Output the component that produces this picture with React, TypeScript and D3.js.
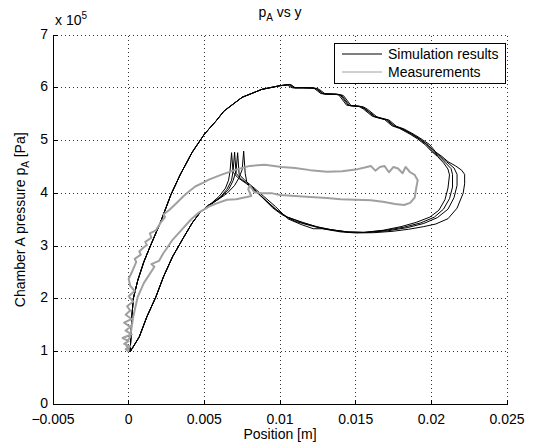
import React from "react";
import * as d3 from "d3";

// Position [m] / pressure [x 1e5 Pa] pairs.
type Pt = [number, number];

const xTicks = [-0.005, 0, 0.005, 0.01, 0.015, 0.02, 0.025];
const xTickLabels = ["\u22120.005", "0", "0.005", "0.01", "0.015", "0.02", "0.025"];
const yTicks = [0, 1, 2, 3, 4, 5, 6, 7];
const yTickLabels = ["0", "1", "2", "3", "4", "5", "6", "7"];
const seriesNames = ["Simulation results", "Measurements"];

// Simulation: pressure build-up branch shared by every cycle
const simRise: Pt[] = [
  [0.0001, 1.0], [0.00015, 1.3], [0.0002, 1.6], [0.0003, 2.0], [0.0006, 2.35],
  [0.001, 2.7], [0.0014, 2.98], [0.0021, 3.45], [0.0028, 3.98], [0.0034, 4.35],
  [0.0042, 4.78], [0.005, 5.12], [0.0058, 5.38], [0.0063, 5.56], [0.0075, 5.82],
  [0.0088, 5.97], [0.01, 6.04],
];

// Simulation: four consecutive cycles after the pressure peak
const simCycle1: Pt[] = [
  [0.0104, 6.05], [0.0105, 6.05], [0.0108, 6.0], [0.0113, 6.0], [0.0121, 6.0],
  [0.0123, 5.98], [0.0127, 5.89], [0.0137, 5.88], [0.0139, 5.86], [0.0144, 5.67],
  [0.0152, 5.65], [0.0155, 5.6], [0.0161, 5.46], [0.0166, 5.42], [0.0169, 5.4],
  [0.0174, 5.28], [0.0179, 5.23], [0.0186, 5.12], [0.0191, 5.03], [0.0196, 4.92],
  [0.02, 4.8], [0.0204, 4.7], [0.0208, 4.58], [0.0211, 4.46], [0.0212, 4.35],
  [0.0211, 4.1], [0.0209, 3.88], [0.0205, 3.68], [0.0199, 3.55], [0.019, 3.45],
  [0.018, 3.37], [0.0168, 3.3], [0.0155, 3.26], [0.0145, 3.27], [0.0134, 3.31],
  [0.0124, 3.37], [0.0114, 3.45], [0.0104, 3.56], [0.0097, 3.7], [0.009, 3.88],
  [0.0084, 4.04], [0.0078, 4.18], [0.0072, 4.3], [0.0069, 4.4], [0.0068, 4.77],
  [0.0067, 4.42], [0.0066, 4.25], [0.0064, 4.1], [0.006, 3.95], [0.0055, 3.82],
];
const simCycle2: Pt[] = [
  [0.0104, 6.05], [0.0106, 6.06], [0.0109, 6.0], [0.0114, 6.0], [0.0122, 6.0],
  [0.0124, 5.98], [0.0128, 5.89], [0.0138, 5.88], [0.014, 5.86], [0.0145, 5.67],
  [0.0153, 5.65], [0.0156, 5.6], [0.0162, 5.46], [0.0167, 5.42], [0.017, 5.4],
  [0.0175, 5.28], [0.018, 5.23], [0.0187, 5.12], [0.0192, 5.03], [0.0197, 4.92],
  [0.0201, 4.79], [0.0205, 4.7], [0.0209, 4.59], [0.0213, 4.47], [0.0214, 4.36],
  [0.0214, 4.12], [0.0212, 3.9], [0.0208, 3.7], [0.0202, 3.55], [0.0193, 3.44],
  [0.0182, 3.36], [0.017, 3.3], [0.0156, 3.26], [0.0144, 3.27], [0.0134, 3.31],
  [0.0125, 3.36], [0.0115, 3.45], [0.0105, 3.55], [0.0098, 3.68], [0.0091, 3.86],
  [0.0085, 4.02], [0.008, 4.15], [0.0074, 4.28], [0.0071, 4.38], [0.007, 4.78],
  [0.0069, 4.42], [0.0068, 4.25], [0.0065, 4.08], [0.0061, 3.94], [0.0055, 3.81],
];
const simCycle3: Pt[] = [
  [0.0105, 6.06], [0.0107, 6.06], [0.011, 6.0], [0.0115, 6.0], [0.0123, 5.99],
  [0.0125, 5.97], [0.0129, 5.88], [0.0139, 5.87], [0.0141, 5.85], [0.0146, 5.66],
  [0.0154, 5.64], [0.0157, 5.59], [0.0163, 5.45], [0.0168, 5.41], [0.0171, 5.39],
  [0.0176, 5.27], [0.0181, 5.22], [0.0188, 5.11], [0.0193, 5.02], [0.0198, 4.91],
  [0.0202, 4.79], [0.0206, 4.7], [0.021, 4.6], [0.0215, 4.48], [0.0217, 4.36],
  [0.0217, 4.15], [0.0215, 3.92], [0.0211, 3.7], [0.0204, 3.54], [0.0195, 3.43],
  [0.0184, 3.35], [0.0171, 3.29], [0.0158, 3.26], [0.0146, 3.26], [0.0136, 3.3],
  [0.0128, 3.33], [0.0122, 3.33], [0.0114, 3.41], [0.0105, 3.52], [0.0097, 3.75],
  [0.0089, 3.95], [0.0083, 4.1], [0.0077, 4.24], [0.0073, 4.36], [0.0072, 4.77],
  [0.0071, 4.43], [0.0069, 4.24], [0.0066, 4.07], [0.0061, 3.93], [0.0055, 3.8],
];
const simCycle4: Pt[] = [
  [0.0105, 6.06], [0.0107, 6.06], [0.011, 6.0], [0.0115, 6.0], [0.0124, 5.99],
  [0.0126, 5.97], [0.013, 5.88], [0.014, 5.87], [0.0142, 5.85], [0.0147, 5.66],
  [0.0155, 5.64], [0.0158, 5.59], [0.0164, 5.45], [0.0169, 5.41], [0.0172, 5.39],
  [0.0177, 5.27], [0.0182, 5.22], [0.0189, 5.11], [0.0194, 5.02], [0.0199, 4.92],
  [0.0203, 4.78], [0.0207, 4.7], [0.0211, 4.6], [0.0216, 4.52], [0.022, 4.44],
  [0.0222, 4.36], [0.0222, 4.18], [0.0221, 4.0], [0.0217, 3.72], [0.0211, 3.52],
  [0.0203, 3.42], [0.0195, 3.37], [0.0185, 3.32], [0.0174, 3.28], [0.0162, 3.255],
  [0.015, 3.25], [0.014, 3.27], [0.013, 3.32], [0.012, 3.39], [0.011, 3.47],
  [0.0101, 3.6], [0.0095, 3.73], [0.0088, 3.93], [0.0082, 4.1], [0.0078, 4.22],
  [0.0077, 4.38], [0.0076, 4.8], [0.0075, 4.45], [0.0073, 4.3], [0.007, 4.15],
  [0.0065, 4.0], [0.0059, 3.88],
];

// Simulation: exhaust branch back to the start, shared by every cycle
const simFall: Pt[] = [
  [0.0053, 3.78], [0.0047, 3.63], [0.0042, 3.44], [0.0036, 3.15], [0.0029, 2.8],
  [0.0023, 2.42], [0.0018, 2.04], [0.0012, 1.66], [0.0007, 1.28], [0.0001, 1.0],
];

// Measured loop
const measured: Pt[] = [
  [0.0, 1.0], [-0.0002, 1.05], [0.0001, 1.1], [-0.0003, 1.15], [0.0, 1.2],
  [-0.0004, 1.26], [0.0002, 1.33], [-0.0002, 1.4], [0.0001, 1.47], [-0.0003, 1.55],
  [0.0002, 1.62], [-0.0002, 1.7], [0.0001, 1.78], [-0.0001, 1.86], [0.0003, 1.95],
  [0.0, 2.05], [0.0004, 2.15], [0.0001, 2.25], [0.0, 2.38], [0.0002, 2.5],
  [0.0005, 2.7], [0.0004, 2.76], [0.0008, 2.84], [0.0007, 2.9], [0.001, 2.98],
  [0.0012, 3.02], [0.0011, 3.08], [0.0015, 3.16], [0.0014, 3.24], [0.0018, 3.3],
  [0.0021, 3.44], [0.0024, 3.55], [0.0023, 3.6], [0.0027, 3.69], [0.0031, 3.8],
  [0.0036, 3.94], [0.004, 4.04], [0.0044, 4.13], [0.0049, 4.2], [0.0053, 4.26],
  [0.0061, 4.35], [0.0071, 4.45], [0.008, 4.52], [0.009, 4.54], [0.0101, 4.5],
  [0.011, 4.48], [0.012, 4.44], [0.0131, 4.41], [0.0141, 4.42], [0.015, 4.45],
  [0.0156, 4.49], [0.016, 4.52], [0.0163, 4.43], [0.0166, 4.5], [0.0169, 4.52],
  [0.0172, 4.4], [0.0175, 4.5], [0.0178, 4.47], [0.0181, 4.38], [0.0183, 4.5],
  [0.0186, 4.4], [0.0189, 4.35], [0.0191, 4.25], [0.019, 4.1], [0.0189, 3.92],
  [0.0186, 3.82], [0.0182, 3.78], [0.0176, 3.8], [0.0168, 3.84], [0.016, 3.87],
  [0.015, 3.88], [0.014, 3.89], [0.0131, 3.91], [0.012, 3.93], [0.011, 3.95],
  [0.01, 3.97], [0.0095, 4.0], [0.0088, 4.0], [0.0083, 4.02], [0.008, 4.15],
  [0.0079, 4.08], [0.0081, 3.95], [0.0078, 3.93], [0.0071, 3.89], [0.0065, 3.88],
  [0.0059, 3.82], [0.0053, 3.75], [0.0046, 3.63], [0.0041, 3.5], [0.0036, 3.34],
  [0.0029, 3.12], [0.0025, 2.95], [0.0023, 2.87], [0.002, 2.72], [0.0015, 2.66],
  [0.0017, 2.61], [0.001, 2.3], [0.0006, 2.04], [0.0003, 1.66], [0.0001, 1.28],
  [-0.0002, 1.15], [0.0, 1.02],
];

const W = 539;
const H = 445;
const M = { left: 53, right: 32, top: 35, bottom: 40.5 };
const FONT = "Liberation Sans, Arial, Helvetica, sans-serif";
const FS = 14;
const SUB = 10;
const GRAY = "#a0a0a0";

export default function App() {
  const x = d3.scaleLinear().domain([-0.005, 0.025]).range([M.left, W - M.right]);
  const y = d3.scaleLinear().domain([0, 7]).range([H - M.bottom, M.top]);
  const line = d3
    .line<Pt>()
    .x((d) => x(d[0]))
    .y((d) => y(d[1]));

  const cycles = [simCycle1, simCycle2, simCycle3, simCycle4];
  const simPath: Pt[] = [];
  cycles.forEach((c) => {
    simPath.push(...simRise, ...c, ...simFall);
  });

  const x0 = M.left;
  const x1 = W - M.right;
  const y0 = H - M.bottom;
  const y1 = M.top;
  const tick = 5;

  const lg = { x: 334, y: 43, w: 171, h: 40 };

  return (
    <svg
      width={W}
      height={H}
      style={{ position: "absolute", left: 0, top: 0, background: "#fff" }}
      fontFamily={FONT}
      fontSize={FS}
    >
      <rect x={0} y={0} width={W} height={H} fill="#fff" />
      {/* dotted grid */}
      <g stroke="#333" strokeWidth={1} strokeDasharray="1,3">
        {xTicks.slice(1).map((t) => (
          <line key={"gx" + t} x1={x(t)} x2={x(t)} y1={y0} y2={y1} shapeRendering="crispEdges" />
        ))}
        {yTicks.slice(1).map((t) => (
          <line key={"gy" + t} x1={x0} x2={x1} y1={y(t)} y2={y(t)} shapeRendering="crispEdges" />
        ))}
      </g>

      {/* data */}
      <path d={line(simPath) || ""} fill="none" stroke="#000" strokeWidth={1} strokeLinejoin="round" />
      <path d={line(measured) || ""} fill="none" stroke={GRAY} strokeWidth={2} strokeLinejoin="round" />

      {/* axes */}
      <g stroke="#000" strokeWidth={1} shapeRendering="crispEdges">
        <line x1={x0} x2={x1} y1={y0} y2={y0} />
        <line x1={x0} x2={x0} y1={y0} y2={y1} />
        {xTicks.map((t) => (
          <line key={"tx" + t} x1={x(t)} x2={x(t)} y1={y0} y2={y0 - tick} />
        ))}
        {yTicks.map((t) => (
          <line key={"ty" + t} x1={x0} x2={x0 + tick} y1={y(t)} y2={y(t)} />
        ))}
      </g>
      <g fill="#000">
        {xTicks.map((t, i) => (
          <text key={"lx" + t} x={x(t)} y={y0 + 19} textAnchor="middle">
            {xTickLabels[i]}
          </text>
        ))}
        {yTicks.map((t, i) => (
          <text key={"ly" + t} x={x0 - 5} y={y(t) + 3.5} textAnchor="end">
            {yTickLabels[i]}
          </text>
        ))}
        <text x={x0 + 2} y={y1 - 10}>
          x 10
          <tspan dy={-6} fontSize={SUB}>
            5
          </tspan>
        </text>
        <text x={(x0 + x1) / 2} y={17} textAnchor="middle">
          p
          <tspan dy={4} fontSize={SUB}>
            A
          </tspan>
          <tspan dy={-4}> vs y</tspan>
        </text>
        <text x={(x0 + x1) / 2} y={H - 6} textAnchor="middle">
          Position [m]
        </text>
        <text transform={`translate(25,${(y0 + y1) / 2}) rotate(-90)`} textAnchor="middle">
          Chamber A pressure p
          <tspan dy={4} fontSize={SUB}>
            A
          </tspan>
          <tspan dy={-4}> [Pa]</tspan>
        </text>
      </g>

      {/* legend */}
      <g>
        <rect x={lg.x} y={lg.y} width={lg.w} height={lg.h} fill="#fff" stroke="#000" strokeWidth={1} shapeRendering="crispEdges" />
        <line x1={lg.x + 8} x2={lg.x + 48} y1={lg.y + 11} y2={lg.y + 11} stroke="#000" strokeWidth={1} />
        <line x1={lg.x + 8} x2={lg.x + 48} y1={lg.y + 29} y2={lg.y + 29} stroke={GRAY} strokeWidth={1} />
        <text x={lg.x + 54} y={lg.y + 16}>{seriesNames[0]}</text>
        <text x={lg.x + 54} y={lg.y + 34}>{seriesNames[1]}</text>
      </g>
    </svg>
  );
}
